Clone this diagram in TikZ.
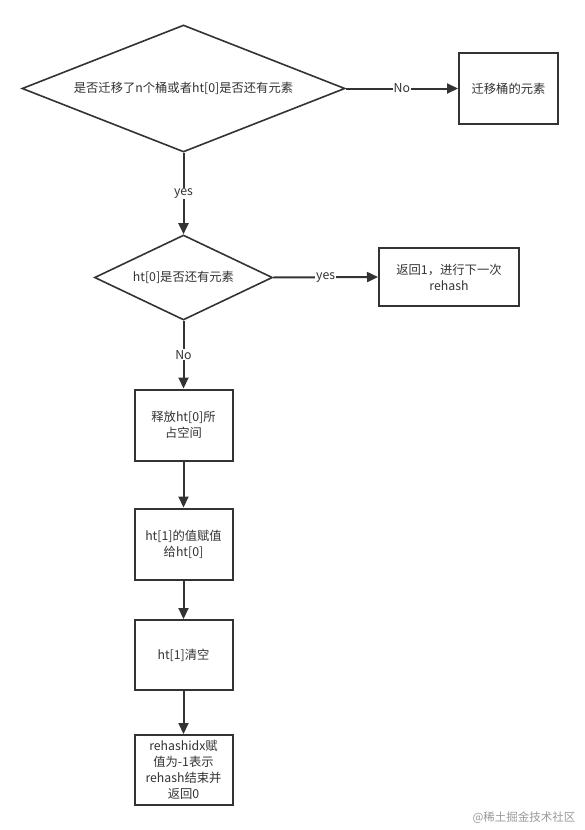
\documentclass[tikz,border=0pt]{standalone}
\usepackage{fontspec}
\setmainfont{Noto Sans CJK SC}
\usetikzlibrary{shapes.geometric,arrows.meta}
\definecolor{ink}{HTML}{333333}
\definecolor{wm}{HTML}{9A9A9A}
\begin{document}
\begin{tikzpicture}[x=1pt,y=-1pt,
  every node/.style={font=\fontsize{12.3pt}{16pt}\selectfont, text=ink},
  box/.style={draw=ink, line width=2pt, align=center, inner sep=2pt},
  dec/.style={draw=ink, line width=1.6pt, diamond, inner sep=0pt, align=center},
  conn/.style={draw=ink, line width=2pt, -{Triangle[length=11pt,width=10pt]}},
  lab/.style={fill=white, inner sep=1pt}]
\useasboundingbox[fill=white] (0,0) rectangle (585,830);

\node[dec, aspect=2.54, minimum width=323pt, minimum height=127pt] (d1) at (183.5,88.5) {是否迁移了n个桶或者ht[0]是否还有元素};
\node[box, minimum width=99pt, minimum height=71pt] (b1) at (508.5,88.5) {迁移桶的元素};
\node[dec, aspect=2.09, minimum width=178pt, minimum height=85pt] (d2) at (183.5,277.5) {ht[0]是否还有元素};
\node[box, minimum width=140pt, minimum height=58pt] (b2) at (449,277) {返回1，进行下一次\\rehash};
\node[box, minimum width=98pt, minimum height=71pt] (b3) at (183.5,425) {释放ht[0]所\\占空间};
\node[box, minimum width=98pt, minimum height=71pt] (b4) at (183.5,544) {ht[1]的值赋值\\给ht[0]};
\node[box, minimum width=98pt, minimum height=70pt] (b5) at (183.5,655) {ht[1]清空};
\node[box, minimum width=98pt, minimum height=70pt] (b6) at (183.5,770) {rehashidx赋\\值为-1表示\\rehash结束并\\返回0};

\draw[conn] (d1.east) -- node[lab] {No} (b1.west);
\draw[conn] (d1.south) -- node[lab] {yes} (d2.north);
\draw[conn] (d2.east) -- node[lab] {yes} (b2.west);
\draw[conn] (d2.south) -- node[lab] {No} (b3.north);
\draw[conn] (b3.south) -- (b4.north);
\draw[conn] (b4.south) -- (b5.north);
\draw[conn] (b5.south) -- (b6.north);

\node[anchor=east, text=wm, font=\fontsize{11.5pt}{14pt}\selectfont] (wmk) at (579,818) {@稀土掘金技术社区};
\end{tikzpicture}
\end{document}
